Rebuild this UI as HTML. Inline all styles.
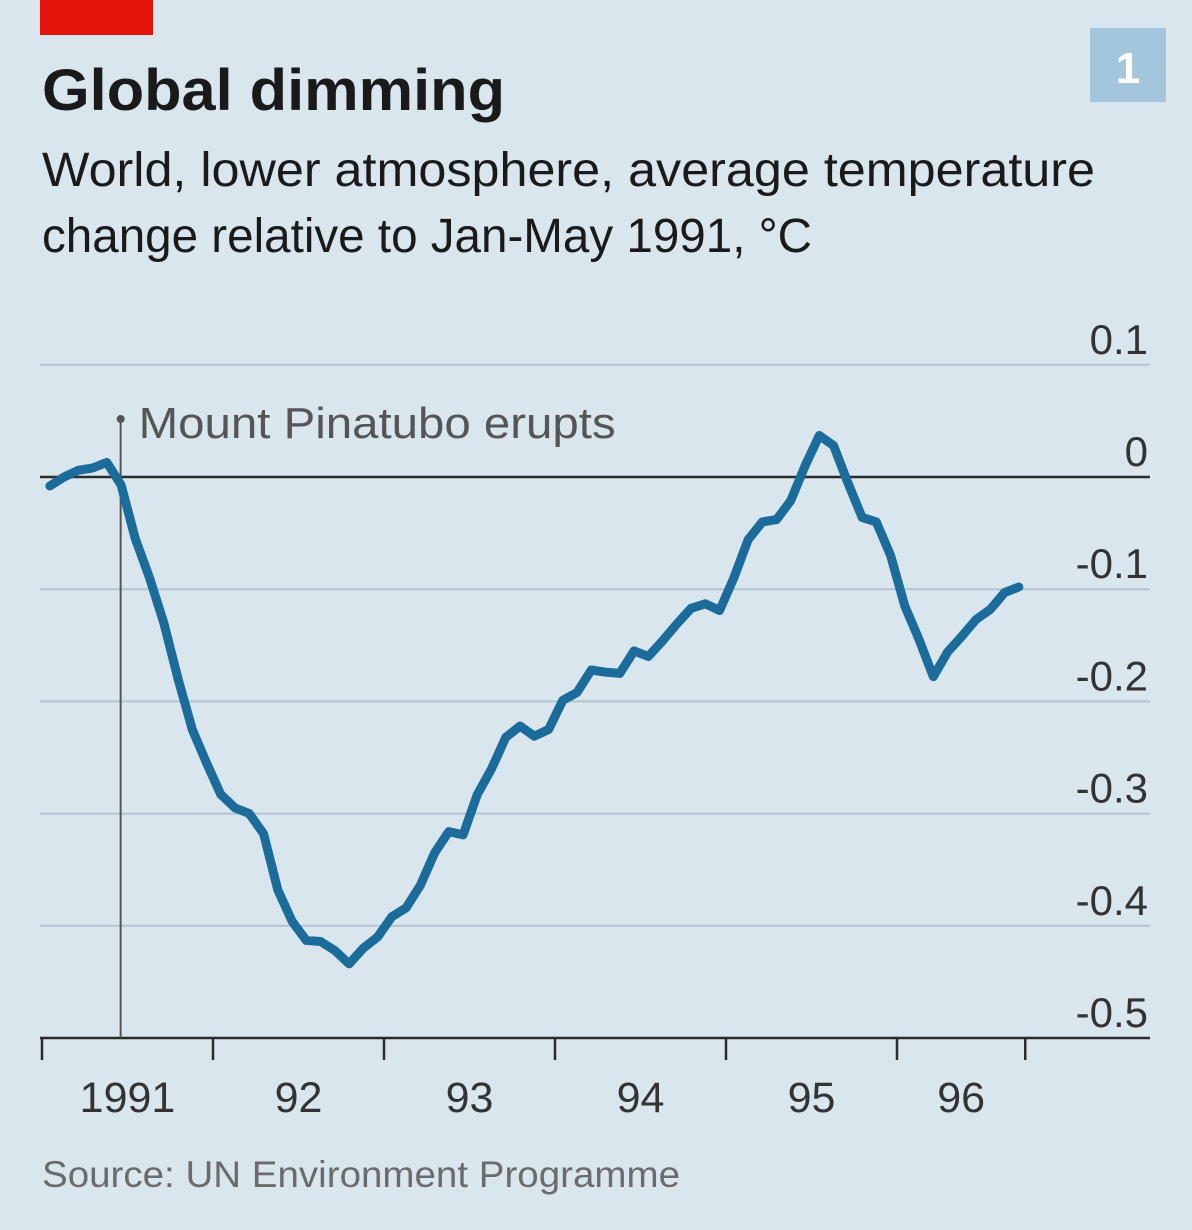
<!DOCTYPE html>
<html><head><meta charset="utf-8"><style>
html,body{margin:0;padding:0;background:#d9e6ee;}
svg{display:block;font-family:"Liberation Sans",sans-serif;}
</style></head><body>
<svg id="chart" width="1192" height="1230" viewBox="0 0 1192 1230">
<rect x="0" y="0" width="1192" height="1230" fill="#d9e6ee"/>
<rect x="40" y="0" width="113" height="35" fill="#e3120b"/>
<rect x="1090" y="28" width="76" height="74" fill="#a3c6dc"/>
<text x="1128" y="83" text-anchor="middle" font-size="44" font-weight="bold" fill="#fff">1</text>
<text x="42" y="110" font-size="58" font-weight="bold" fill="#1a1a1a" textLength="463" lengthAdjust="spacingAndGlyphs">Global dimming</text>
<text x="42" y="186" font-size="48" fill="#1a1a1a" textLength="1053" lengthAdjust="spacingAndGlyphs">World, lower atmosphere, average temperature</text>
<text x="42" y="252" font-size="48" fill="#1a1a1a" textLength="770" lengthAdjust="spacingAndGlyphs">change relative to Jan-May 1991, °C</text>
<g id="grid"></g>
<g id="xaxis"></g>
<g id="annot"></g>
<g id="series"></g>
<text x="42" y="1187" font-size="37" fill="#6b6b6b" textLength="638" lengthAdjust="spacingAndGlyphs">Source: UN Environment Programme</text>
</svg>
<script>
const yTicks = [0.1, 0, -0.1, -0.2, -0.3, -0.4, -0.5];
const yTickLabels = ["0.1", "0", "-0.1", "-0.2", "-0.3", "-0.4", "-0.5"];
const xYears = [1991, 1992, 1993, 1994, 1995, 1996];
const xYearLabels = ["1991", "92", "93", "94", "95", "96"];
const startYear = 1991;
const endYearTick = 1996.75;
const eruptionDate = 1991.46;
const temps = [-0.008,0.0,0.006,0.008,0.013,-0.007,-0.055,-0.09,-0.13,-0.18,-0.225,-0.255,
-0.283,-0.295,-0.3,-0.318,-0.368,-0.396,-0.413,-0.414,-0.422,-0.434,-0.42,-0.41,
-0.392,-0.384,-0.364,-0.335,-0.316,-0.319,-0.283,-0.26,-0.232,-0.222,-0.231,-0.225,
-0.199,-0.192,-0.172,-0.174,-0.175,-0.155,-0.16,-0.146,-0.131,-0.117,-0.113,-0.119,
-0.09,-0.056,-0.04,-0.038,-0.021,0.01,0.037,0.028,-0.005,-0.036,-0.04,-0.07,
-0.115,-0.145,-0.178,-0.156,-0.142,-0.127,-0.118,-0.103,-0.098];

const NS = "http://www.w3.org/2000/svg";
const xScale = t => 42 + (t - startYear) * 171;
const yScale = v => 477 - v * 1122;
function mk(tag, attrs, parent){const e=document.createElementNS(NS,tag);for(const k in attrs)e.setAttribute(k,attrs[k]);parent.appendChild(e);return e;}

const grid = document.getElementById('grid');
yTicks.forEach((v,i)=>{
  const y=yScale(v);
  const last=i===yTicks.length-1;
  const ln=mk('line',{x1:40,x2:1150,y1:y,y2:y,stroke:(v===0||last)?'#2b2b2b':'#b3c3cf','stroke-width':(v===0||last)?2.5:2},grid);
  
  
  const tx=mk('text',{x:1148,y:y-11,'text-anchor':'end','font-size':42,fill:'#333'},grid);
  tx.textContent=yTickLabels[i];
  
  
});

const xa=document.getElementById('xaxis');
const tickPos=xYears.concat([endYearTick]);
tickPos.forEach(t=>{
  const x=xScale(t);
  const tk=mk('line',{x1:x,x2:x,y1:1038,y2:1060,stroke:'#2b2b2b','stroke-width':2.5},xa);
  
  
});
xYears.forEach((yr,i)=>{
  const next=tickPos[i+1];
  const tx=mk('text',{x:xScale((yr+next)/2),y:1112,'text-anchor':'middle','font-size':43,fill:'#333'},xa);
  tx.textContent=xYearLabels[i];
  
  
});

const an=document.getElementById('annot');
const ex=xScale(eruptionDate);
const vl=mk('line',{x1:ex,x2:ex,y1:418,y2:1038,stroke:'#555','stroke-width':2},an);


const dot=mk('circle',{cx:ex,cy:419,r:4,fill:'#555'},an);


const at=mk('text',{x:ex+18,y:438,'font-size':44,fill:'#555',textLength:477,lengthAdjust:'spacingAndGlyphs'},an);
at.textContent='Mount Pinatubo erupts';



const se=document.getElementById('series');
const d=temps.map((v,i)=>(i?'L':'M')+xScale(startYear+(i+0.55)/12).toFixed(1)+','+yScale(v).toFixed(1)).join(' ');
const p=mk('path',{d:d,fill:'none',stroke:'#1b6b9b','stroke-width':9,'stroke-linejoin':'round','stroke-linecap':'round'},se);


</script>
</body></html>
